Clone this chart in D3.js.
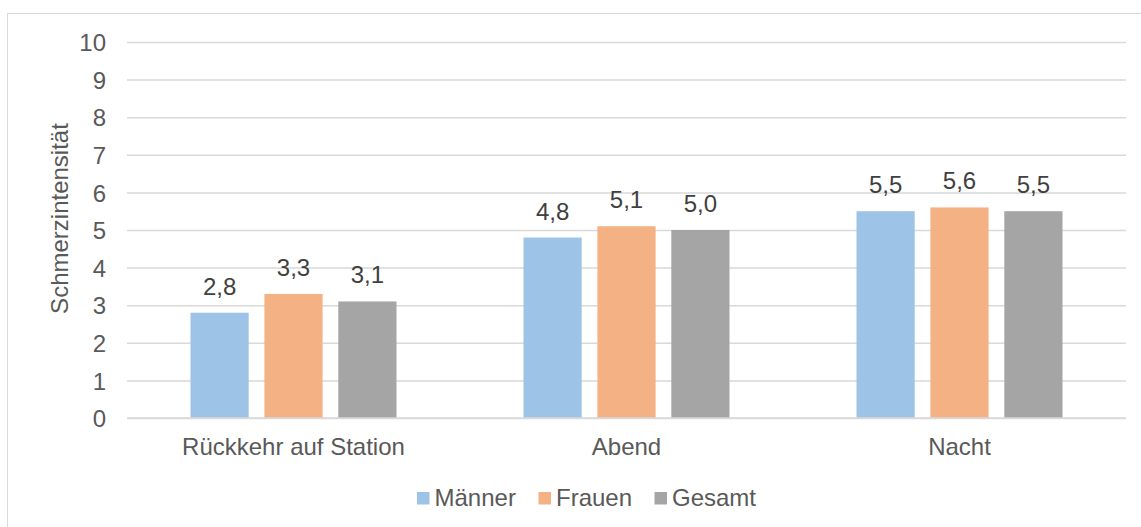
<!DOCTYPE html>
<html>
<head>
<meta charset="utf-8">
<script src="https://cdn.jsdelivr.net/npm/d3@7"></script>
<style>
  html, body { margin: 0; padding: 0; background: #fff; }
  svg { display: block; font-family: "Liberation Sans", Arial, sans-serif; }
</style>
</head>
<body>
<svg id="chart" width="1141" height="527"></svg>
<script>
// Pain intensity by time point and group
const categories = ["Rückkehr auf Station", "Abend", "Nacht"];
const seriesNames = ["Männer", "Frauen", "Gesamt"];
const maenner = [2.8, 4.8, 5.5];
const frauen  = [3.3, 5.1, 5.6];
const gesamt  = [3.1, 5.0, 5.5];
const yTicks  = [0, 1, 2, 3, 4, 5, 6, 7, 8, 9, 10];
const colors  = ["#9dc3e6", "#f4b183", "#a5a5a5"];

const seriesValues = [maenner, frauen, gesamt];
const textColor = "#595959";
const fontSize = 24;

const svg = d3.select("#chart");
const W = 1141, H = 527;
const plot = { left: 127, right: 1126, top: 42, bottom: 418 };

// outer chart frame
svg.append("rect")
  .attr("x", 7.5).attr("y", 13.5)
  .attr("width", W).attr("height", H)
  .attr("fill", "none").attr("stroke", "#d9d9d9").attr("stroke-width", 1);

const x0 = d3.scaleBand().domain(categories).range([plot.left, plot.right]).paddingInner(0).paddingOuter(0);
const groupWidth = 206;
const x1 = d3.scaleBand().domain(seriesNames).range([0, groupWidth]).paddingInner(0.2125).paddingOuter(0);
const y = d3.scaleLinear().domain([0, 10]).range([plot.bottom, plot.top]);

// gridlines and tick labels
const yAxis = d3.axisLeft(y).tickValues(yTicks).tickSize(-(plot.right - plot.left)).tickPadding(21).tickFormat(d3.format("d"));
const gy = svg.append("g").attr("transform", `translate(${plot.left},0)`).call(yAxis);
gy.select(".domain").remove();
gy.selectAll(".tick line").attr("stroke", "#d9d9d9").attr("stroke-width", 1.5);
gy.selectAll(".tick text")
  .attr("fill", textColor).attr("font-size", fontSize)
  .attr("font-family", "Liberation Sans, Arial, sans-serif")
  .attr("dy", "0.36em");

// y axis title
svg.append("text")
  .attr("transform", "translate(67.5,218.5) rotate(-90)")
  .attr("text-anchor", "middle")
  .attr("fill", textColor).attr("font-size", fontSize)
  .text("Schmerzintensität");

// bars
const groups = svg.append("g").selectAll("g")
  .data(categories)
  .join("g")
  .attr("transform", c => `translate(${x0(c) + (x0.bandwidth() - groupWidth) / 2},0)`);

groups.selectAll("rect")
  .data((c, i) => seriesNames.map((s, j) => ({ s, v: seriesValues[j][i], j })))
  .join("rect")
  .attr("x", d => x1(d.s))
  .attr("width", x1.bandwidth())
  .attr("y", d => y(d.v))
  .attr("height", d => y(0) - y(d.v))
  .attr("fill", d => colors[d.j]);

// value labels
const fmt = v => d3.format(".1f")(v).replace(".", ",");
groups.selectAll("text.val")
  .data((c, i) => seriesNames.map((s, j) => ({ s, v: seriesValues[j][i], j })))
  .join("text")
  .attr("class", "val")
  .attr("x", d => x1(d.s) + x1.bandwidth() / 2)
  .attr("y", d => y(d.v) - 18)
  .attr("text-anchor", "middle")
  .attr("fill", "#404040").attr("font-size", fontSize)
  .text(d => fmt(d.v));

// baseline
svg.append("line")
  .attr("x1", plot.left).attr("x2", plot.right)
  .attr("y1", y(0)).attr("y2", y(0))
  .attr("stroke", "#d9d9d9").attr("stroke-width", 1.5);

// category labels
svg.append("g").selectAll("text")
  .data(categories)
  .join("text")
  .attr("x", c => x0(c) + x0.bandwidth() / 2)
  .attr("y", 455)
  .attr("text-anchor", "middle")
  .attr("fill", textColor).attr("font-size", fontSize)
  .text(c => c);

// legend
const legendX = [417, 538.5, 654.5];
const legend = svg.append("g").selectAll("g")
  .data(seriesNames)
  .join("g")
  .attr("transform", (s, i) => `translate(${legendX[i]},0)`);
legend.append("rect")
  .attr("x", 0).attr("y", 492).attr("width", 12.5).attr("height", 12.5)
  .attr("fill", (s, i) => colors[i]);
legend.append("text")
  .attr("x", 17.5).attr("y", 506)
  .attr("fill", textColor).attr("font-size", fontSize)
  .text(s => s);
</script>
</body>
</html>
